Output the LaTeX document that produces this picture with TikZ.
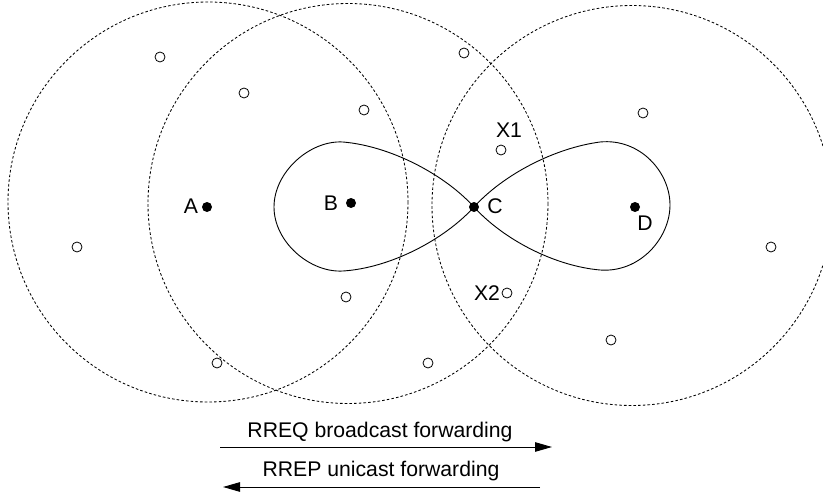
\documentclass[tikz,border=0pt]{standalone}
\usepackage{fontspec}
\setmainfont{Liberation Sans}
\usetikzlibrary{arrows.meta}
\begin{document}
\begin{tikzpicture}[x=1pt,y=-1pt,
  rangecircle/.style={draw=black,line width=0.85pt,dash pattern=on 2.6pt off 2.1pt},
  hostdot/.style={circle,fill=black,inner sep=0pt,minimum size=10pt},
  nodedot/.style={circle,draw=black,fill=white,line width=0.8pt,inner sep=0pt,minimum size=10pt},
  lbl/.style={font=\fontsize{21.2}{25}\selectfont,inner sep=0pt,anchor=base},
  flow/.style={line width=0.9pt,-{Triangle[length=17pt,width=9.5pt]}},
  route/.style={line width=0.9pt}]
\useasboundingbox (0,0) rectangle (823,495);
% range circles
\coordinate (rA) at (208,202);
\coordinate (rB) at (348,203.5);
\coordinate (rD) at (632,205.5);
\draw[rangecircle] (rA) circle[radius=200];
\draw[rangecircle] (rB) circle[radius=200];
\draw[rangecircle] (rD) circle[radius=200];
% route (figure eight through C)
\node[hostdot] (C) at (474,207) {};
\draw[route] (C.center) .. controls (444,174) and (390,146) .. (343,142)
  .. controls (310,140) and (274,172) .. (274,207)
  .. controls (274,242) and (310,273) .. (343,271)
  .. controls (390,268) and (444,240) .. (C.center)
  .. controls (504,174) and (555,148) .. (600,142)
  .. controls (640,138) and (670,172) .. (670,205)
  .. controls (670,238) and (640,273) .. (600,270)
  .. controls (555,266) and (504,240) .. (C.center);
% hosts
\node[hostdot] (A) at (207,207) {};
\node[hostdot] (B) at (351,203) {};
\node[hostdot] (D) at (635,207) {};
\node[lbl] (lA) at (191,213) {A};
\node[lbl] (lB) at (331,210) {B};
\node[lbl] (lC) at (495,213) {C};
\node[lbl] (lD) at (645,230) {D};
\node[lbl] (lX1) at (509,137) {X1};
\node[lbl] (lX2) at (487,300) {X2};
% other nodes
\node[nodedot] (n1) at (160,57) {};
\node[nodedot] (n2) at (244,93) {};
\node[nodedot] (n3) at (364,110) {};
\node[nodedot] (n4) at (464,53) {};
\node[nodedot] (n5) at (643,113) {};
\node[nodedot] (X1) at (501,150) {};
\node[nodedot] (n6) at (77,247) {};
\node[nodedot] (n7) at (771,247) {};
\node[nodedot] (n8) at (346,297) {};
\node[nodedot] (X2) at (507,293) {};
\node[nodedot] (n9) at (611,340) {};
\node[nodedot] (n10) at (217,363) {};
\node[nodedot] (n11) at (428,363) {};
% legend
\node[lbl] (t1) at (380,437) {RREQ broadcast forwarding};
\node[lbl] (t2) at (381,476) {RREP unicast forwarding};
\coordinate (a1s) at (220,447);
\coordinate (a1e) at (552,447);
\coordinate (a2s) at (540,487);
\coordinate (a2e) at (223,487);
\draw[flow] (a1s) -- (a1e);
\draw[flow] (a2s) -- (a2e);
\end{tikzpicture}
\end{document}
